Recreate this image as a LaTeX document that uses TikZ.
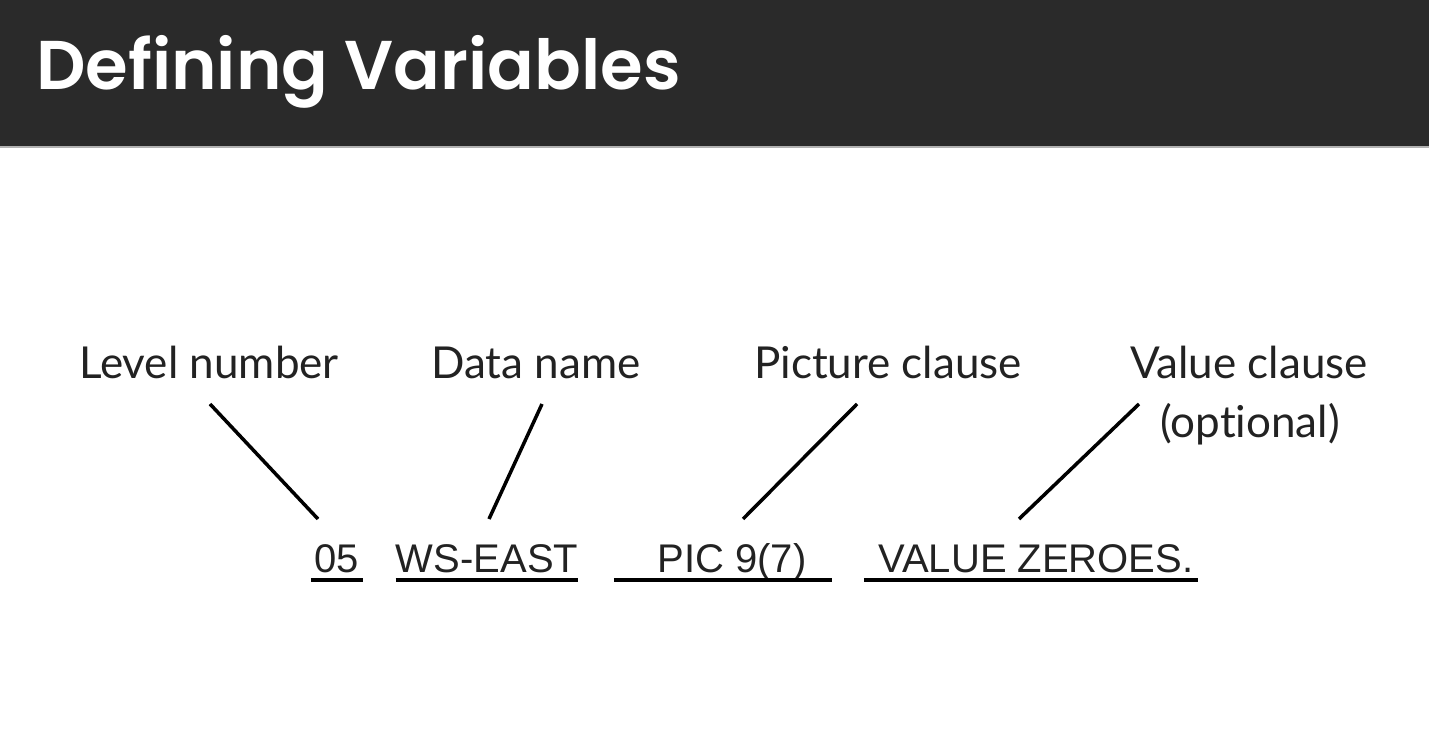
\documentclass[tikz,border=0pt]{standalone}
\usepackage{fontspec}
\setmainfont{Lato}[Ligatures=NoCommon]
\newfontfamily\titlefont{Poppins}[BoldFont={* SemiBold}]
\newfontfamily\codefont{Liberation Sans}
\usetikzlibrary{positioning}

\definecolor{headbg}{HTML}{2A2A2A}
\definecolor{inkgray}{HTML}{222222}

\tikzset{
  label/.style={text=inkgray, inner sep=0pt, anchor=base, font=\fontsize{44}{50}\selectfont},
  code/.style={text=inkgray, inner sep=0pt, anchor=base, text depth=0pt, font=\codefont\fontsize{40}{46}\selectfont},
  pointer/.style={line width=3.5pt, black},
  uline/.style={line width=3.5pt, black}
}

\begin{document}
\begin{tikzpicture}[x=1pt,y=-1pt]
\useasboundingbox (0,0) rectangle (1429,751);
\fill[headbg] (0,0) rectangle (1429,147);
\draw[gray!60, line width=1.5pt] (0,147) -- (1429,147);
\node[anchor=base west, text=white, inner sep=0pt, font=\titlefont\bfseries\fontsize{69}{76}\selectfont] (title) at (36,90) {Defining Variables};

% labels
\node[label] (lvl) at (209,378) {Level number};
\node[label] (dat) at (536,378) {Data name};
\node[label] (pic) at (888,378) {Picture clause};
\node[label] (val) at (1249,378) {Value clause};
\node[label] (opt) at (1250,437) {(optional)};

% code line
\node[code, minimum width=52pt] (c05) at (337,572) {05};
\node[code, minimum width=180pt] (cws) at (487,572) {WS-EAST};
\node[code, minimum width=218pt] (cpic) at (723,572) {\hspace{18pt}PIC 9(7)};
\node[code, minimum width=334pt] (cval) at (1031,572) {\hspace{10pt}VALUE ZEROES.};

\foreach \n in {c05,cws,cpic,cval}
  \draw[uline] ([yshift=-8pt]\n.south west) -- ([yshift=-8pt]\n.south east);

% pointers
\coordinate (lvlend) at (210,404);
\coordinate (datend) at (542,404);
\coordinate (picend) at (857,404);
\coordinate (valend) at (1139,404);
\coordinate (c05top) at (318,519);
\coordinate (cwstop) at (489,519);
\coordinate (cpictop) at (743,519);
\coordinate (cvaltop) at (1019,519);
\draw[pointer] (lvlend) -- (c05top);
\draw[pointer] (datend) -- (cwstop);
\draw[pointer] (picend) -- (cpictop);
\draw[pointer] (valend) -- (cvaltop);
\end{tikzpicture}
\end{document}
